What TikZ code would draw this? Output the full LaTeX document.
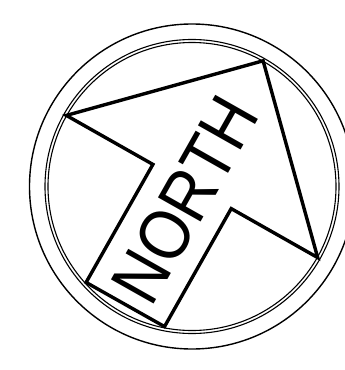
\documentclass[tikz,border=0pt]{standalone}
\usepackage{fontspec}
\setmainfont{Liberation Sans}
\tikzset{
  ringline/.style={draw=black, line width=1.4pt},
  thinring/.style={draw=black, line width=1.1pt},
  arrowline/.style={draw=black, line width=3.4pt, line join=miter},
  label/.style={inner sep=0pt, anchor=base, rotate=60.5, font=\fontsize{63}{63}\selectfont}
}
\begin{document}
\begin{tikzpicture}[x=1pt,y=-1pt]
\useasboundingbox (0,0) rectangle (345,370);
\coordinate (c) at (192,186.5);
\draw[ringline] (c) circle[radius=162.5];
\draw[thinring] (c) circle[radius=147];
\draw[thinring] (c) circle[radius=144];
\coordinate (tip) at (263.1,60.8);
\coordinate (lb) at (66.3,115.4);
\coordinate (ln) at (152.9,164.4);
\coordinate (bl) at (86.1,282.4);
\coordinate (br) at (164.5,326.6);
\coordinate (rn) at (231.2,208.6);
\coordinate (rb) at (317.7,257.6);
\draw[arrowline] (tip) -- (lb) -- (ln) -- (bl) -- (br) -- (rn) -- (rb) -- cycle;
\node[label] (txt) at (206.5,211.5) {\scalebox{1}[1.13]{NORTH}};
\end{tikzpicture}
\end{document}
